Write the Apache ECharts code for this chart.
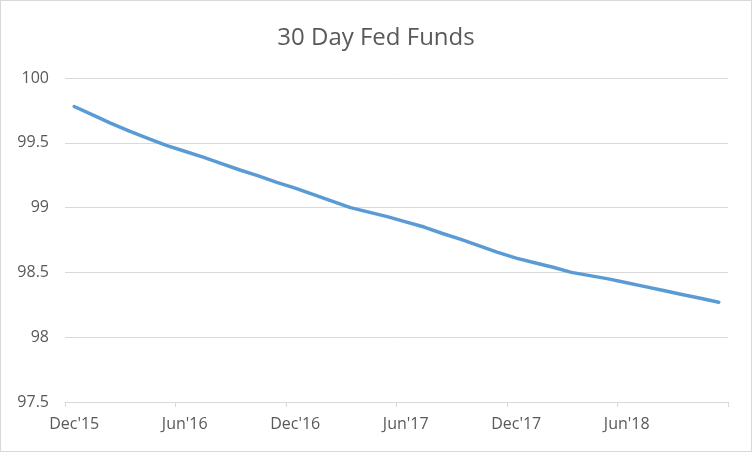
<!DOCTYPE html>
<html>
<head>
<meta charset="utf-8">
<script src="https://cdn.jsdelivr.net/npm/echarts@6/dist/echarts.min.js"></script>
<style>
  html, body { margin: 0; padding: 0; background: #fff; }
  #main { width: 752px; height: 452px; box-sizing: border-box; border: 1px solid #d9d9d9; }
</style>
</head>
<body>
<div id="main"></div>
<script>
// months from Dec'15 to Nov'18, one point per month
const months = [
  "Dec'15", "Jan'16", "Feb'16", "Mar'16", "Apr'16", "May'16",
  "Jun'16", "Jul'16", "Aug'16", "Sep'16", "Oct'16", "Nov'16",
  "Dec'16", "Jan'17", "Feb'17", "Mar'17", "Apr'17", "May'17",
  "Jun'17", "Jul'17", "Aug'17", "Sep'17", "Oct'17", "Nov'17",
  "Dec'17", "Jan'18", "Feb'18", "Mar'18", "Apr'18", "May'18",
  "Jun'18", "Jul'18", "Aug'18", "Sep'18", "Oct'18", "Nov'18"
];

// futures price
const fedFunds = [
  99.78, 99.715, 99.65, 99.59, 99.535, 99.48,
  99.435, 99.39, 99.34, 99.29, 99.245, 99.195,
  99.15, 99.10, 99.05, 99.00, 98.965, 98.93,
  98.89, 98.85, 98.80, 98.755, 98.705, 98.655,
  98.61, 98.575, 98.54, 98.50, 98.475, 98.45,
  98.42, 98.39, 98.36, 98.33, 98.30, 98.27
];

const yMin = 97.5;
const yMax = 100;
const yStep = 0.5;

const font = "'Open Sans', sans-serif";
const textColor = "#595959";

var myChart = echarts.init(document.getElementById("main"));

var option = {
  animation: false,
  title: {
    text: "30 Day Fed Funds",
    left: "center",
    top: 20,
    textStyle: {
      fontFamily: font,
      fontSize: 24,
      fontWeight: "normal",
      color: textColor,
    },
  },
  grid: {
    left: 64,
    right: 23,
    top: 77,
    bottom: 49,
    containLabel: false,
  },
  xAxis: {
    type: "category",
    data: months,
    boundaryGap: true,
    axisLine: { lineStyle: { color: "#d9d9d9", width: 1 } },
    axisTick: {
      show: true,
      interval: 5,
      length: 5,
      lineStyle: { color: "#d9d9d9" },
    },
    axisLabel: {
      interval: 5,
      margin: 14,
      fontFamily: font,
      fontSize: 16,
      color: textColor,
    },
  },
  yAxis: {
    type: "value",
    min: yMin,
    max: yMax,
    interval: yStep,
    axisLine: { show: false },
    axisTick: { show: false },
    axisLabel: {
      margin: 16,
      fontFamily: font,
      fontSize: 16,
      color: textColor,
    },
    splitLine: { lineStyle: { color: "#d9d9d9", width: 1 } },
  },
  series: [
    {
      name: "30 Day Fed Funds",
      type: "line",
      data: fedFunds,
      showSymbol: false,
      smooth: false,
      lineStyle: { color: "#5b9bd5", width: 3.5, cap: "round", join: "round" },
      itemStyle: { color: "#5b9bd5" },
    },
  ],
};

myChart.setOption(option);
</script>
</body>
</html>
